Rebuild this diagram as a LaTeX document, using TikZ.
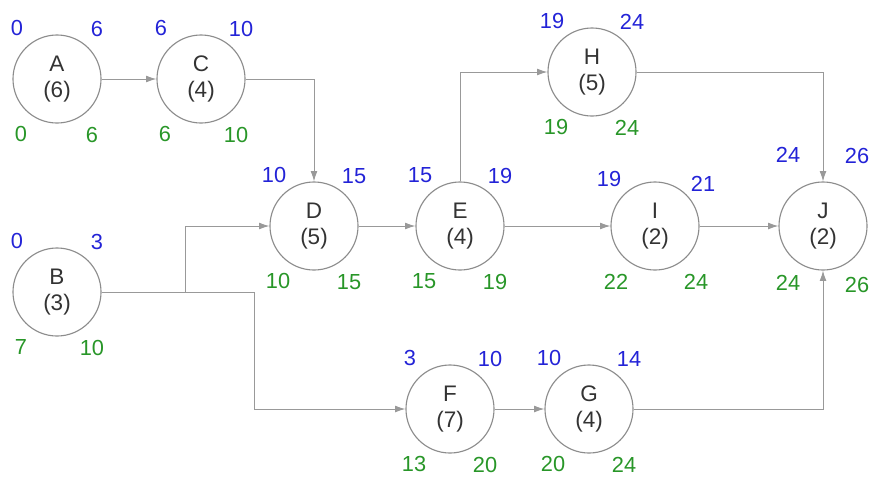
\documentclass[tikz,border=0pt]{standalone}
\usepackage{fontspec}
\setmainfont{Liberation Sans}
\usetikzlibrary{arrows.meta,calc}
\definecolor{esblue}{RGB}{35,35,215}
\definecolor{lsgreen}{RGB}{40,150,40}

\begin{document}
\begin{tikzpicture}[
    x=0.025cm, y=-0.025cm,
    act/.style={draw=black!45, line width=0.8pt, circle, minimum size=2.2cm, inner sep=0pt, align=center, text=black!80, font=\fontsize{16}{19}\selectfont},
    early/.style={text=esblue, font=\fontsize{15.5}{18}\selectfont},
    late/.style={text=lsgreen, font=\fontsize{15.5}{18}\selectfont},
    arrow/.style={-{Latex[length=2.6mm,width=1.7mm]}, draw=black!40, line width=0.6pt}
]
\useasboundingbox (0,0) rectangle (879,481);

\foreach \n/\x/\y/\d in {A/57/79/6, C/201/79/4, B/57/292/3, D/314/226/5, E/460/226/4,
    H/592/72/5, I/655/226/2, J/823/226/2, F/450/409/7, G/589/409/4}
    \node[act] (\n) at (\x,\y) {\n\\(\d)};

\foreach \n/\ea/\ef/\la/\lf in {A/0/6/0/6, B/0/3/7/10, C/6/10/6/10, D/10/15/10/15,
    E/15/19/15/19, F/3/10/13/20, G/10/14/20/24, H/19/24/19/24} {
  \node[early] at ($(\n)+(-40,-51)$) {\ea};
  \node[early] at ($(\n)+(40,-50)$) {\ef};
  \node[late] at ($(\n)+(-36,55)$) {\la};
  \node[late] at ($(\n)+(35,56)$) {\lf};
}
\node[early] at ($(I)+(-46,-47)$) {19};
\node[early] at ($(I)+(48,-42)$) {21};
\node[late] at ($(I)+(-39,56)$) {22};
\node[late] at ($(I)+(41,56)$) {24};
\node[early] at ($(J)+(-35,-71)$) {24};
\node[early] at ($(J)+(34,-70)$) {26};
\node[late] at ($(J)+(-35,57)$) {24};
\node[late] at ($(J)+(34,59)$) {26};

\coordinate (bd) at (185,292);
\coordinate (bf) at (254,292);

\draw[arrow] (A) -- (C);
\draw[arrow] (C) -| (D);
\draw[arrow] (bd) |- (D);
\draw[arrow] (B) -- (bf) |- (F);
\draw[arrow] (D) -- (E);
\draw[arrow] (E) |- (H);
\draw[arrow] (E) -- (I);
\draw[arrow] (H) -| (J);
\draw[arrow] (I) -- (J);
\draw[arrow] (F) -- (G);
\draw[arrow] (G) -| (J);
\end{tikzpicture}
\end{document}
